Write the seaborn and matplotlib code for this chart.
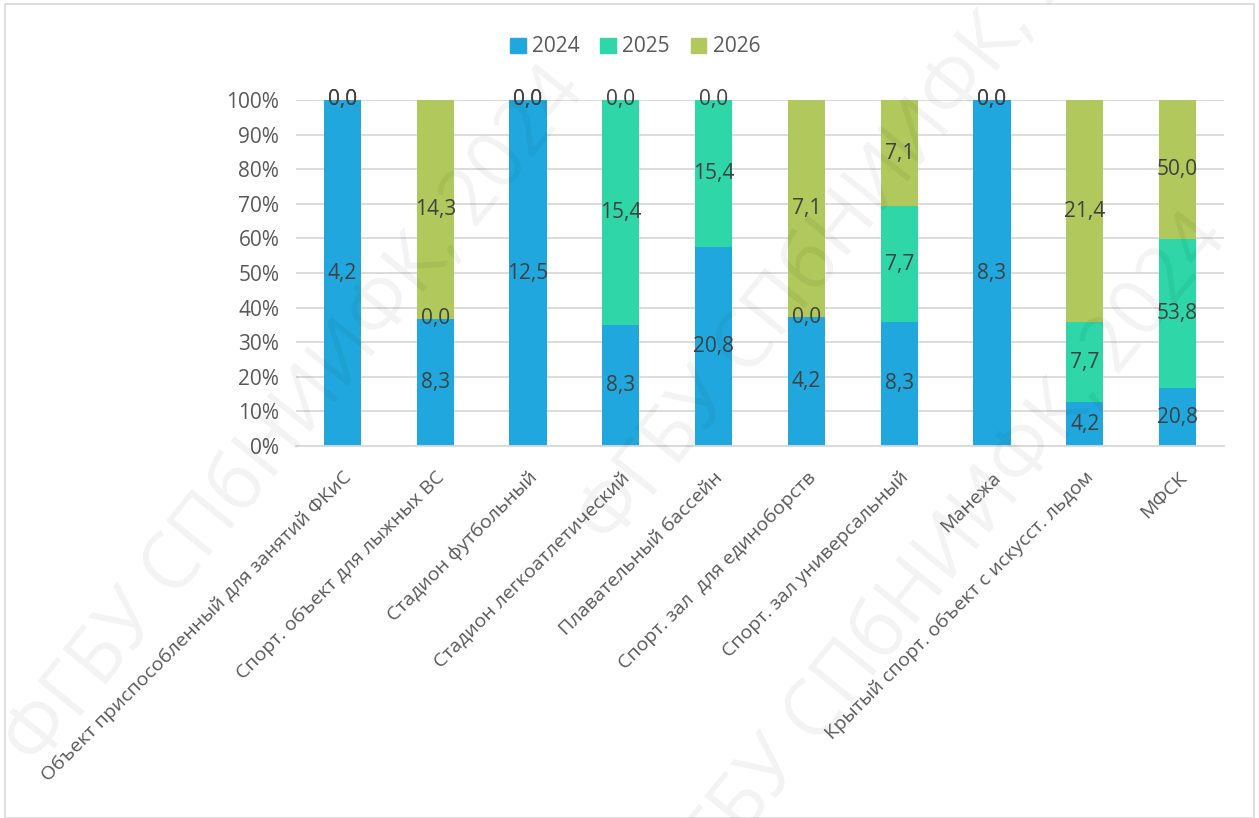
import matplotlib
matplotlib.use("Agg")
import matplotlib.pyplot as plt
import seaborn as sns
import numpy as np
import pandas as pd
from matplotlib.patches import Rectangle

# --- data -----------------------------------------------------------------
categories = [
    "Объект приспособленный для занятий ФКиС",
    "Спорт. объект для лыжных ВС",
    "Стадион футбольный",
    "Стадион легкоатлетический",
    "Плавательный бассейн",
    "Спорт. зал  для единоборств",
    "Спорт. зал универсальный",
    "Манежа",
    "Крытый спорт. объект с искусст. льдом",
    "МФСК",
]
years = ["2024", "2025", "2026"]
values_2024 = [4.2, 8.3, 12.5, 8.3, 20.8, 4.2, 8.3, 8.3, 4.2, 20.8]
values_2025 = [0.0, 0.0, 0.0, 15.4, 15.4, 0.0, 7.7, 0.0, 7.7, 53.8]
values_2026 = [0.0, 14.3, 0.0, 0.0, 0.0, 7.1, 7.1, 0.0, 21.4, 50.0]
y_ticks = [0, 10, 20, 30, 40, 50, 60, 70, 80, 90, 100]

colors = {"2024": "#20A8DE", "2025": "#2ED6A8", "2026": "#B0C85C"}
text_grey = "#595959"
label_grey = "#404040"

# --- shares of each year within a category (100 % stacked) ----------------
raw = np.array([values_2024, values_2025, values_2026])
share = raw / raw.sum(axis=0) * 100
cum_top = np.cumsum(share, axis=0)
cum_bottom = cum_top - share

sns.set_theme(style="white")
plt.rcParams["font.family"] = ["Open Sans", "DejaVu Sans"]

fig = plt.figure(figsize=(12.59, 8.18), dpi=100)
ax = fig.add_axes([296 / 1259, 1 - 446 / 818, (1224 - 296) / 1259, (446 - 100) / 818])

# stacked bars drawn back to front: full stack, then lower parts on top
for i in reversed(range(len(years))):
    df = pd.DataFrame({"cat": categories, "top": cum_top[i]})
    sns.barplot(data=df, x="cat", y="top", color=colors[years[i]],
                saturation=1, width=0.4, ax=ax, order=categories,
                edgecolor="none", zorder=2)

# value labels at segment centres
for i in range(len(years)):
    for j in range(len(categories)):
        yc = (cum_bottom[i, j] + cum_top[i, j]) / 2
        ax.text(j, yc, f"{raw[i, j]:.1f}".replace(".", ","),
                ha="center", va="center", fontsize=15, color=label_grey,
                zorder=4)

ax.set_xlim(-0.5, len(categories) - 0.5)
ax.set_ylim(0, 100)
ax.set_yticks(y_ticks)
ax.set_yticklabels([f"{t}%" for t in y_ticks], fontsize=15, color=text_grey)
ax.set_xticks(range(len(categories)))
ax.set_xticklabels(categories, rotation=45, ha="right", rotation_mode="anchor",
                   fontsize=14, color=text_grey)
ax.tick_params(axis="x", length=0, pad=16)
ax.tick_params(axis="y", length=0, pad=12)
ax.set_xlabel("")
ax.set_ylabel("")
ax.yaxis.grid(True, color="#D9D9D9", linewidth=1.3, zorder=0)
ax.set_axisbelow(True)
for side in ["top", "right", "left"]:
    ax.spines[side].set_visible(False)
ax.spines["bottom"].set_color("#D9D9D9")
ax.spines["bottom"].set_linewidth(1.3)

# legend
handles = [Rectangle((0, 0), 1, 1, color=colors[y]) for y in years]
fig.legend(handles, years, loc="center", bbox_to_anchor=(635 / 1259, 1 - 47 / 818),
           ncol=3, frameon=False, fontsize=15, handlelength=0.75,
           handleheight=0.75, handletextpad=0.3, columnspacing=1.0,
           labelcolor=text_grey)

# faint diagonal watermark
mark = "ФГБУ СПбНИИФК, 2024"
for (x, y, ang) in [(0.235, 0.49, 51), (0.69, 0.76, 51), (0.745, 0.31, 51)]:
    fig.text(x, y, mark, fontsize=56, color="#000000", alpha=0.05,
             rotation=ang, ha="center", va="center", zorder=10)

# outer frame of the chart
fig.patches.append(Rectangle((5 / 1259, 0), 1 - 10 / 1259, 1 - 4 / 818,
                             transform=fig.transFigure, fill=False,
                             edgecolor="#D9D9D9", linewidth=1.2))

fig.savefig("out.png", dpi=100, facecolor="white")
